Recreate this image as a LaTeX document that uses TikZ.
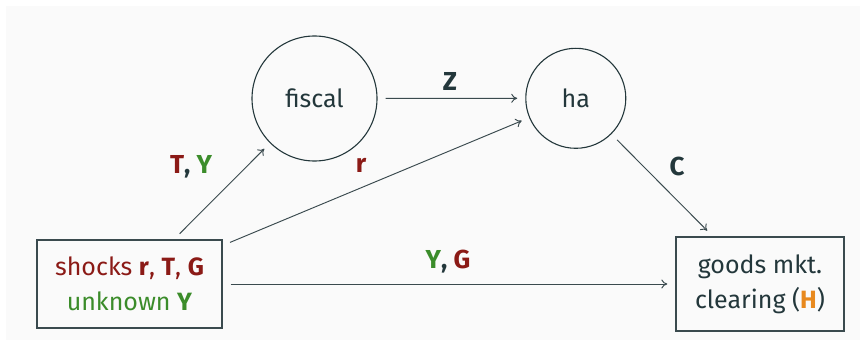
\documentclass[tikz,border=0pt]{standalone}
\usepackage{fontspec}
\setmainfont{Fira Sans}
\usetikzlibrary{arrows.meta}
\definecolor{mdark}{HTML}{23373B}
\definecolor{mred}{HTML}{8B1A16}
\definecolor{mgreen}{HTML}{3B8C2A}
\definecolor{morange}{HTML}{E8891E}
\definecolor{bgray}{HTML}{FAFAFA}
\definecolor{lgray}{HTML}{3A4A4E}
\tikzset{
  circnode/.style={circle, draw=mdark, line width=1.1pt, text=mdark, inner sep=0pt, font=\fontsize{25}{35}\selectfont},
  boxnode/.style={rectangle, draw=lgray, line width=1.3pt, inner sep=0pt, align=center, font=\fontsize{25}{35}\selectfont},
  conn/.style={draw=lgray, line width=0.95pt, -{To[length=6pt,width=9pt]}, shorten >=8pt, shorten <=8pt},
  lbl/.style={font=\fontsize{26}{30}\selectfont\bfseries, inner sep=0pt}
}
\begin{document}
\begin{tikzpicture}[x=1pt,y=-1pt]
\useasboundingbox (0,0) rectangle (865,345);
\fill[bgray] (6,6) rectangle (860,340);
\node[circnode, minimum size=125pt] (fiscal) at (314.5,98.5) {fiscal};
\node[circnode, minimum size=100pt] (ha) at (575.8,98.3) {ha};
\node[boxnode, minimum width=185pt, minimum height=88pt] (shocks) at (129.5,284)
  {\textcolor{mred}{shocks \textbf{r}, \textbf{T}, \textbf{G}}\\\textcolor{mgreen}{unknown \textbf{Y}}};
\node[boxnode, minimum width=168pt, minimum height=94pt, text=mdark] (goods) at (760,284)
  {goods mkt.\\clearing (\textcolor{morange}{\textbf{H}})};
\draw[conn] (fiscal) -- (ha);
\draw[conn] (shocks) -- (fiscal);
\draw[conn] (shocks) -- (ha);
\draw[conn] (ha) -- (goods);
\draw[conn] (shocks) -- (goods);
\node[lbl, text=mdark] (lz) at (450,81) {Z};
\node[lbl, text=mdark] (lty) at (191,167) {\textcolor{mred}{T}, \textcolor{mgreen}{Y}};
\node[lbl, text=mred] (lr) at (361,165) {r};
\node[lbl, text=mdark] (lc) at (677,166) {C};
\node[lbl, text=mdark] (lyg) at (448,262) {\textcolor{mgreen}{Y}, \textcolor{mred}{G}};
\end{tikzpicture}
\end{document}
